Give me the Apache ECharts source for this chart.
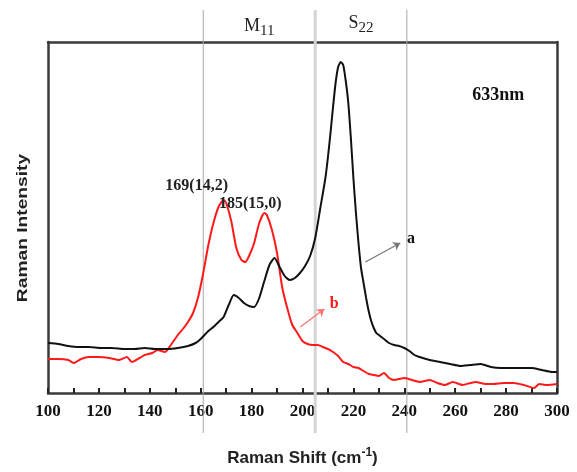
<!DOCTYPE html>
<html><head><meta charset="utf-8">
<script src="https://cdn.jsdelivr.net/npm/echarts@6/dist/echarts.min.js"></script>
<style>html,body{margin:0;padding:0;background:#fff}#c{width:577px;height:472px}</style>
</head><body><div id="c"></div>
<script>
// Curve a (black)
const xA = [100,104,108,112,116,121,125,130,134,138,142,147,151,155,158,160,163,165,167,169,171,173,175,177,179,181,183,185,187,189,191,193,195,197,199,201,203,205,207,209,210,211,212,213,214,215,216,217,218,219,220,221,222,223,224,225,226,227,228,229,230,232,234,236,238,240,242,244,246,250,254,258,262,266,270,274,278,282,286,290,294,298,300];
const yA = [50,49,47,46,46,45,45,44,44,45,44,44,45,47,50,54,62,66,71,76,88,98,95,90,87,86,95,112,128,135,126,117,113,115,120,127,137,155,185,215,236,260,286,310,326,331,328,312,290,255,215,180,150,125,110,95,82,72,65,60,58,54,50,48,47,45,42,38,36,33,31,29,27,28,29,26,25,25,25,25,23,21,21];
// Curve b (red)
const xB = [100,104,108,110,113,116,120,124,128,131,133,136,138,141,143,146,148,151,153,155,157,159,161,163,165,167,169,170,172,174,176,177.5,179,181,183,185,186,188,190,192,194,196,198,200,202,204,206,208,210,212,214,216,218,220,222,224,226,228,230,232,234,236,238,240,243,246,250,253,256,259,263,266,268,272,275,279,283,287,291,293,296,300];
const yB = [34,34,33,30,34,36,36,35,33,36,31,35,38,40,43,41,47,58,64,71,80,96,120,148,170,186,193,190,172,145,133,131,137,150,170,180,178,163,140,106,85,68,60,52,49,48,48,46,44,41,37,31,29,26,25,22,19,18,17,20,15,13,14,15,13,11,13,10,8,11,8,10,11,9,9,10,10,8,5,9,8,9];
const xTicks = [100,120,140,160,180,200,220,240,260,280,300];
const bandLines = [161, 205, 241];
const peakLabels = [{t:'169(14,2)', x:158.4, y:207}, {t:'185(15,0)', x:179.5, y:189}];

const chart = echarts.init(document.getElementById('c'));
const serif = 'Liberation Serif, Times New Roman, serif';
const sans = 'Liberation Sans, Arial, sans-serif';
const frame = {show:true,onZero:false,lineStyle:{color:'#3a3a3a',width:2.5}};
chart.setOption({
  animation:false,
  backgroundColor:'#fff',
  grid:{left:48,right:20,top:42,bottom:79},
  xAxis:[{
    type:'value', min:100, max:300, interval:20, position:'bottom',
    axisLine:frame,
    axisTick:{show:true,inside:true,length:5,lineStyle:{color:'#222',width:2}},
    minorTick:{show:true,splitNumber:2,length:5,lineStyle:{color:'#222',width:2}},
    splitLine:{show:false},
    axisLabel:{color:'#111',fontFamily:serif,fontWeight:'bold',fontSize:17,margin:10},
    name:'Raman Shift (cm{sup|-1})', nameLocation:'middle', nameGap:54,
    nameTextStyle:{color:'#222',fontFamily:sans,fontWeight:'bold',fontSize:17,
      rich:{sup:{fontFamily:sans,fontWeight:'bold',fontSize:12,verticalAlign:'bottom',padding:[0,0,10,0],color:'#222'}}}
  },{
    type:'value', min:100, max:300, position:'top',
    axisLine:frame, axisTick:{show:false}, axisLabel:{show:false}, splitLine:{show:false}
  }],
  yAxis:[{
    type:'value', min:0, max:351, position:'left',
    axisLine:frame, axisTick:{show:false}, axisLabel:{show:false}, splitLine:{show:false}
  },{
    type:'value', min:0, max:351, position:'right',
    axisLine:frame, axisTick:{show:false}, axisLabel:{show:false}, splitLine:{show:false}
  }],
  series:[
    {type:'line', data:xB.map((x,i)=>[x,yB[i]]), showSymbol:false, smooth:0.2, z:3,
     lineStyle:{color:'#ff1a1a',width:2},
     markLine:{silent:true,symbol:['none','arrow'],symbolSize:7,label:{show:false},
       lineStyle:{color:'#ff7070',width:1.2,type:'solid'},
       data:[[{coord:[199.1,66]},{coord:[208.6,84]}]]}},
    {type:'line', data:xA.map((x,i)=>[x,yA[i]]), showSymbol:false, smooth:0.2, z:4,
     lineStyle:{color:'#111',width:2},
     markLine:{silent:true,symbol:['none','arrow'],symbolSize:7,label:{show:false},
       lineStyle:{color:'#777',width:1.2,type:'solid'},
       data:[[{coord:[224.7,131]},{coord:[238.4,150]}]]}}
  ]
});

const g = [];
const px = (x,y)=>chart.convertToPixel({xAxisIndex:0,yAxisIndex:0},[x,y]);
const lineTop = 10, lineBottom = 433;
bandLines.forEach((v,i)=>{
  const p = px(v,0);
  g.push({type:'line',z:1,shape:{x1:p[0],y1:lineTop,x2:p[0],y2:lineBottom},
    style:{stroke: i===1 ? '#d4d4d4' : '#a8a8a8', lineWidth: i===1 ? 3 : 1}});
});
const mid1 = (px(bandLines[0],0)[0]+px(bandLines[1],0)[0])/2;
const mid2 = (px(bandLines[1],0)[0]+px(bandLines[2],0)[0])/2;
g.push({type:'text',z:10,x:mid1,y:26,style:{text:'M{s|11}',fill:'#222',font:'18px '+serif,align:'center',verticalAlign:'middle',
  rich:{s:{font:'15px '+serif,fill:'#222',padding:[10,0,0,0]}}}});
g.push({type:'text',z:10,x:mid2,y:23,style:{text:'S{s|22}',fill:'#222',font:'18px '+serif,align:'center',verticalAlign:'middle',
  rich:{s:{font:'15px '+serif,fill:'#222',padding:[10,0,0,0]}}}});
peakLabels.forEach(l=>{
  const p = px(l.x,l.y);
  g.push({type:'text',z:10,x:p[0],y:p[1],style:{text:l.t,fill:'#222',font:'bold 16px '+serif,align:'center',verticalAlign:'middle'}});
});
let pp = px(276.9,298);
g.push({type:'text',z:10,x:pp[0],y:pp[1],style:{text:'633nm',fill:'#111',font:'bold 18px '+serif,align:'center',verticalAlign:'middle'}});
pp = px(242.6,154);
g.push({type:'text',z:10,x:pp[0],y:pp[1],style:{text:'a',fill:'#111',font:'bold 16px '+serif,align:'center',verticalAlign:'middle'}});
pp = px(212.5,89);
g.push({type:'text',z:10,x:pp[0],y:pp[1],style:{text:'b',fill:'#ff1a1a',font:'bold 16px '+serif,align:'center',verticalAlign:'middle'}});
g.push({type:'text',z:10,x:23,y:228,rotation:Math.PI/2,scaleX:1.28,style:{text:'Raman Intensity',fill:'#222',font:'bold 15px '+sans,align:'center',verticalAlign:'middle'}});
chart.setOption({graphic:g});
</script></body></html>
